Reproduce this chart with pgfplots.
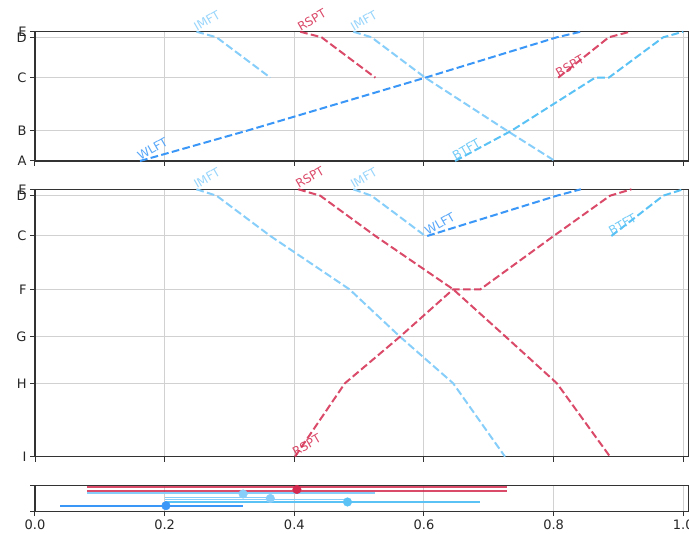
\documentclass[border=0pt]{standalone}
\usepackage{fontspec}
\setmainfont{DejaVu Sans}
\usepackage{pgfplots}
\pgfplotsset{compat=1.18}
\definecolor{rspt}{HTML}{D42A4F}
\definecolor{imft}{HTML}{87CEFA}
\definecolor{wlft}{HTML}{3A97F7}
\definecolor{btft}{HTML}{5BC2F5}
\definecolor{spine}{HTML}{333333}
\tikzset{lab/.style={font=\fontsize{12}{12}\selectfont, rotate=30, anchor=base west, inner sep=0.5pt, opacity=0.85}}
\begin{document}
\begin{tikzpicture}[x=1pt,y=1pt]
\pgfplotsset{
  panel/.style={scale only axis, width=653.3pt, xmin=0, xmax=1.0077,
    anchor=south west, clip=false,
    axis line style={spine, line width=1.1pt},
    grid=major, grid style={black!18, line width=1pt},
    tick style={spine, line width=1pt}, tick align=outside, major tick length=4.9pt,
    xtick pos=bottom, ytick pos=left,
    xtick={0,0.2,0.4,0.6,0.8,1},
    ticklabel style={font=\fontsize{13}{13}\selectfont, text=black!85},
  },
  tr/.style={line width=2pt, dash pattern=on 7.7pt off 3.3pt},
  dot/.style={only marks, mark=*, mark size=4.3pt, color=#1, mark options={draw=none, fill=#1}},
}
% ---------- top panel: A-B-C-D-E ----------
\begin{axis}[panel, at={(35pt,373pt)}, height=129.3pt, ymin=0, ymax=129.3,
  ytick={0,30.3,83.3,123.7,129.3}, yticklabels={A,B,C,D,E}, xticklabels={}]
\addplot[tr, wlft] coordinates {(0.162,0) (0.327,30.3) (0.602,83.3) (0.805,123.7) (0.842,129.3)};
\addplot[tr, imft] coordinates {(0.249,129.3) (0.280,123.7) (0.363,83.3)};
\addplot[tr, rspt, opacity=0.85] coordinates {(0.409,129.3) (0.442,123.7) (0.525,83.3)};
\addplot[tr, imft] coordinates {(0.491,129.3) (0.519,123.7) (0.602,83.3) (0.728,30.3) (0.802,0)};
\addplot[tr, btft] coordinates {(0.648,0) (0.735,30.3) (0.864,83.3) (0.885,83.3) (0.969,123.7) (1.0,129.3)};
\addplot[tr, rspt, opacity=0.85] coordinates {(0.807,83.3) (0.885,123.7) (0.918,129.3)};
\node[lab, text=wlft] at (axis cs:0.162,0) {WLFT};
\node[lab, text=imft] at (axis cs:0.249,129.3) {IMFT};
\node[lab, text=rspt] at (axis cs:0.409,129.3) {RSPT};
\node[lab, text=imft] at (axis cs:0.491,129.3) {IMFT};
\node[lab, text=btft] at (axis cs:0.648,0) {BTFT};
\node[lab, text=rspt] at (axis cs:0.807,83.3) {RSPT};
\end{axis}
% ---------- middle panel: I-H-G-F-C-D-E ----------
\begin{axis}[panel, at={(35pt,77.3pt)}, height=267.4pt, ymin=0, ymax=267.4,
  ytick={0,73.4,120,167.4,220.7,261,267.4}, yticklabels={I,H,G,F,C,D,E}, xticklabels={}]
\addplot[tr, imft] coordinates {(0.249,267.4) (0.280,261) (0.363,220.7) (0.485,167.4) (0.563,120) (0.645,73.4) (0.725,0)};
\addplot[tr, rspt, opacity=0.85] coordinates {(0.406,267.4) (0.440,261) (0.525,220.7) (0.645,167.4) (0.726,120) (0.805,73.4) (0.887,0)};
\addplot[tr, rspt, opacity=0.85] coordinates {(0.401,0) (0.478,73.4) (0.563,120) (0.645,167.4) (0.687,167.4) (0.800,220.7) (0.887,261) (0.920,267.4)};
\addplot[tr, imft] coordinates {(0.491,267.4) (0.519,261) (0.602,220.7)};
\addplot[tr, wlft] coordinates {(0.605,220.7) (0.805,261) (0.842,267.4)};
\addplot[tr, btft] coordinates {(0.889,220.7) (0.969,261) (1.0,267.4)};
\node[lab, text=imft] at (axis cs:0.249,267.4) {IMFT};
\node[lab, text=rspt] at (axis cs:0.406,267.4) {RSPT};
\node[lab, text=imft] at (axis cs:0.491,267.4) {IMFT};
\node[lab, text=wlft] at (axis cs:0.605,220.7) {WLFT};
\node[lab, text=btft] at (axis cs:0.889,220.7) {BTFT};
\node[lab, text=rspt] at (axis cs:0.401,0) {RSPT};
\end{axis}
% ---------- bottom panel: spans ----------
\begin{axis}[panel, at={(35pt,22.7pt)}, height=26pt, ymin=0, ymax=26,
  ytick={0,26}, yticklabels={}, xticklabels={0.0,0.2,0.4,0.6,0.8,1.0}]
\addplot[rspt, line width=1.8pt, opacity=0.85] coordinates {(0.08,24.0) (0.728,24.0)};
\addplot[rspt, line width=1.8pt, opacity=0.85] coordinates {(0.08,20.6) (0.728,20.6)};
\addplot[imft, line width=1.8pt] coordinates {(0.08,18.0) (0.525,18.0)};
\addplot[imft, line width=1.8pt] coordinates {(0.2,13.8) (0.363,13.8)};
\addplot[imft, line width=1.8pt] coordinates {(0.2,11.8) (0.482,11.8)};
\addplot[btft, line width=1.8pt] coordinates {(0.2,9.3) (0.686,9.3)};
\addplot[wlft, line width=2pt] coordinates {(0.039,5.6) (0.321,5.6)};
\addplot[dot=rspt] coordinates {(0.404,21.8)};
\addplot[dot=imft] coordinates {(0.321,17.3) (0.363,12.8)};
\addplot[dot=btft] coordinates {(0.482,9.3)};
\addplot[dot=wlft] coordinates {(0.202,5.6)};
\end{axis}
\pgfresetboundingbox
\useasboundingbox (0,0) rectangle (689,534);
\end{tikzpicture}
\end{document}
